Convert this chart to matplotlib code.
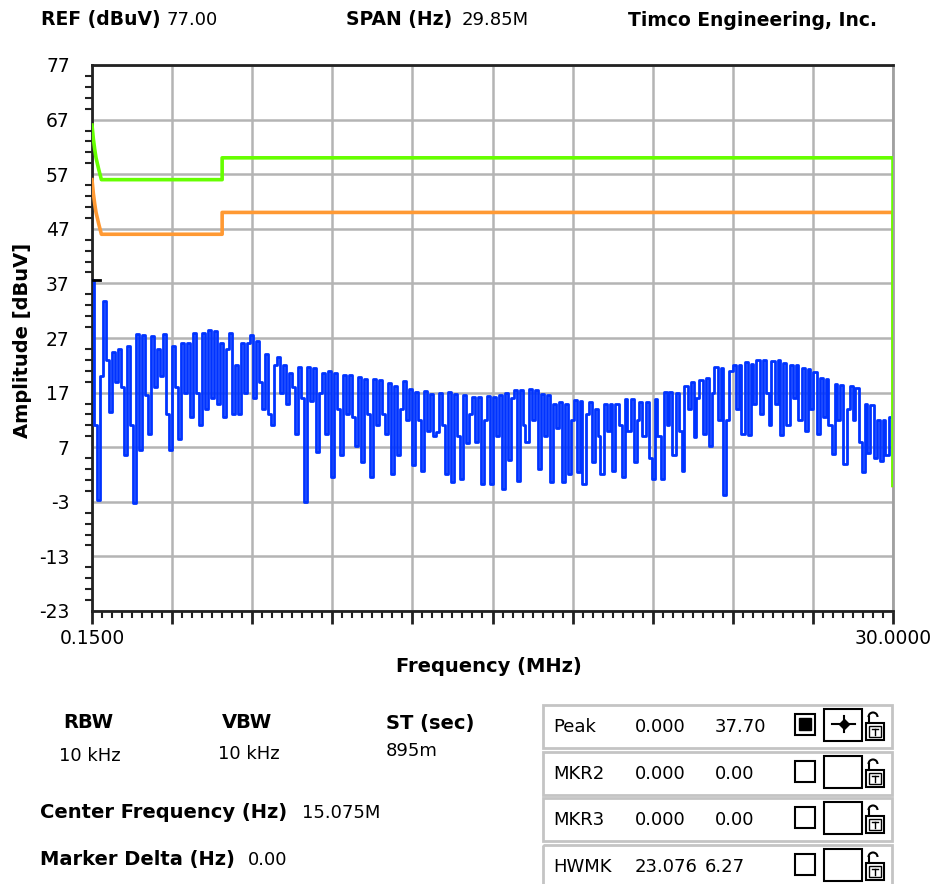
# conducted emissions sweep, spectrum analyzer screen
import numpy as np
import matplotlib.pyplot as plt
from matplotlib.ticker import FixedLocator
from matplotlib.patches import Rectangle, Arc

plt.rcParams['font.family'] = ['DejaVu Sans']

# sweep settings
f_start = 0.15   # MHz
f_stop = 30.0    # MHz
ref_level = 77   # dBuV
bottom_level = -23

trace = [
    37.7, 11, -2.7, 20, 33.8, 23, 13.5, 24.5, 19, 25,
    18, 5.5, 25.5, 11, -3.3, 27.8, 6.5, 27.5, 16.5, 9.5,
    27.3, 18, 25, 20, 27.8, 13, 6.5, 25.5, 18, 8.5,
    26, 17, 26, 12.5, 28, 17, 11, 28, 14, 28.4,
    16, 28.2, 15, 26, 12.5, 25, 28, 13, 22, 13,
    26, 17, 26, 27.6, 16, 26.5, 19, 14, 24, 13,
    11, 22, 23.5, 17, 22, 15, 20.5,
    18, 9.5, 21.7, 16, -3, 21.7, 15.5, 21.5, 6.1, 17,
    20.5, 9.5, 21, 1.5, 20.5, 14, 5.5, 20.3, 13, 20.2,
    12.5, 7.3, 19.9, 4.3, 19.5, 13, 1.5, 19.5, 11, 19.3,
    13, 9.5, 18.8, 2.1, 18.3, 5.5, 14, 19.2, 12, 17.7,
    3.7, 17.2, 12, 2.7, 17.3, 10, 16.8, 9, 9.8, 17,
    11, 2.1, 17.2, 0.6, 16.8, 9, 1.2, 16.6, 7.8, 13,
    16.2, 8, 16.2, 0.3, 12, 16.4, 0.2,
    16.2, 9, 16.5, -0.6, 17, 4.6, 16, 17.4, 0.9, 17.4,
    11, 8, 17.6, 12, 17.5, 3, 16.8, 9, 16.5, 0.6,
    15, 10.5, 15.3, 0.6, 15, 2, 12, 15.6, 2.5, 15.5,
    0.3, 13, 15.3, 4.2, 14, 9, 2, 15, 10, 15,
    2.7, 15, 11, 1.5, 15.9, 10, 15.8, 4.2, 12, 15.3,
    9, 15.2, 5, 1.2, 15.8, 9, 1.2, 17.1, 11, 17.2,
    5.5, 17, 10, 2.7, 18.3, 14, 19,
    8.9, 16, 19.3, 9.5, 19.6, 7.3, 17, 21.7, 12, 21.5,
    -1.8, 12, 21, 22, 14, 22, 9.5, 22.6, 9.2, 22.3,
    15, 22.9, 13, 22.9, 17, 11, 22.8, 15, 22.9, 9.2,
    22.5, 11, 22, 16, 22, 12, 21.5, 10, 21.4, 14,
    20.8, 9.5, 19.6, 12.5, 19.4, 11, 5.8, 18.6, 12, 18.4,
    4, 14, 18.3, 12, 17.8, 8, 2.4, 15, 6, 14.7,
    5, 12, 4.5, 12, 5.6, 12.5, 13.5,
]

# limit lines (MHz, dBuV)
qp_freq = [0.15, 0.2, 0.25, 0.3, 0.4, 0.5, 5.0, 5.0, 30.0, 30.0]
qp_level = [66, 63.5, 61.6, 60, 57.9, 56, 56, 60, 60, 0]
av_freq = [0.15, 0.2, 0.25, 0.3, 0.4, 0.5, 5.0, 5.0, 30.0, 30.0]
av_level = [56, 53.5, 51.6, 50, 47.9, 46, 46, 50, 50, 0]

# marker
peak_freq = 0.15
peak_level = 37.7

# screen texts
ref_text = "77.00"
span_text = "29.85M"
company = "Timco Engineering, Inc."
rbw = "10 kHz"
vbw = "10 kHz"
sweep_time = "895m"
center_freq = "15.075M"
marker_delta = "0.00"
mk_names = ["Peak", "MKR2", "MKR3", "HWMK"]
mk_freq = ["0.000", "0.000", "0.000", "23.076"]
mk_amp = ["37.70", "0.00", "0.00", "6.27"]

W, H = 935, 884
fig = plt.figure(figsize=(W / 100, H / 100), dpi=100)

# overlay in pixel coords for the screen texts
ov = fig.add_axes([0, 0, 1, 1])
ov.set_xlim(0, W)
ov.set_ylim(H, 0)
ov.axis('off')

# main plot area
x0, x1, y0, y1 = 92, 893, 65, 611
ax = fig.add_axes([x0 / W, 1 - y1 / H, (x1 - x0) / W, (y1 - y0) / H])

freq = np.linspace(f_start, f_stop, len(trace))
ax.plot(freq, trace, color='#0033ff', lw=2, drawstyle='steps-mid', zorder=3)
ax.plot(av_freq, av_level, color='#ff9933', lw=2.6, zorder=4)
ax.plot(qp_freq, qp_level, color='#66ff00', lw=2.6, zorder=5)
ax.plot([peak_freq, peak_freq + 0.3], [peak_level, peak_level], color='black', lw=2, zorder=6)

ax.set_xlim(f_start, f_stop)
ax.set_ylim(bottom_level, ref_level)

xmaj = np.linspace(f_start, f_stop, 11)
ax.xaxis.set_major_locator(FixedLocator(xmaj))
ax.set_xticklabels(['0.1500'] + [''] * 9 + ['30.0000'])
ax.xaxis.set_minor_locator(FixedLocator(np.linspace(f_start, f_stop, 81)))
ymaj = np.arange(bottom_level, ref_level + 1, 10)
ax.yaxis.set_major_locator(FixedLocator(ymaj))
ax.set_yticklabels([str(v) for v in ymaj])
ax.yaxis.set_minor_locator(FixedLocator(np.arange(bottom_level, ref_level + 1, 2)))

ax.tick_params(axis='x', which='major', length=9, width=2, pad=4, labelsize=13.5, color='#222222')
ax.tick_params(axis='x', which='minor', length=5, width=1.5, color='#222222')
ax.tick_params(axis='y', which='major', length=0, pad=16, labelsize=13.5)
ax.tick_params(axis='y', which='minor', length=5, width=1.5, color='#222222')

ax.grid(True, which='major', color='#b4b4b4', lw=1.8)
ax.set_axisbelow(True)
for side in ['left', 'bottom', 'top']:
    ax.spines[side].set_color('#222222')
    ax.spines[side].set_linewidth(2)
ax.spines['right'].set_color('#a0a0a0')
ax.spines['right'].set_linewidth(2)

# header
ov.text(41, 20, "REF (dBuV)", fontsize=13.5, fontweight='bold', va='center')
ov.text(166, 20, ref_text, fontsize=13, va='center')
ov.text(346, 20, "SPAN (Hz)", fontsize=13.5, fontweight='bold', va='center')
ov.text(462, 20, span_text, fontsize=13, va='center')
ov.text(628, 20, company, fontsize=13.5, fontweight='bold', va='center')

# axis titles
ov.text(489, 666, "Frequency (MHz)", fontsize=14, fontweight='bold', ha='center', va='center')
ov.text(23, 340, "Amplitude [dBuV]", fontsize=14, fontweight='bold', ha='center', va='center',
        rotation=90)

# settings block
ov.text(88, 723, "RBW", fontsize=14, fontweight='bold', ha='center', va='center')
ov.text(90, 756, rbw, fontsize=13, ha='center', va='center')
ov.text(247, 723, "VBW", fontsize=14, fontweight='bold', ha='center', va='center')
ov.text(249, 754, vbw, fontsize=13, ha='center', va='center')
ov.text(386, 723, "ST (sec)", fontsize=14, fontweight='bold', va='center')
ov.text(386, 751, sweep_time, fontsize=13, va='center')
ov.text(40, 813, "Center Frequency (Hz)", fontsize=14, fontweight='bold', va='center')
ov.text(302, 813, center_freq, fontsize=13, va='center')
ov.text(40, 860, "Marker Delta (Hz)", fontsize=14, fontweight='bold', va='center')
ov.text(248, 860, marker_delta, fontsize=13, va='center')

# marker table
row_tops = [705, 752, 798, 845]
for i, top in enumerate(row_tops):
    ov.add_patch(Rectangle((543, top), 349, 43, fill=False, ec='#c4c4c4', lw=2))
    cy = top + 22
    ov.text(553, cy, mk_names[i], fontsize=13, va='center')
    ov.text(635, cy, mk_freq[i], fontsize=13, va='center')
    ov.text(715 if i < 3 else 705, cy, mk_amp[i], fontsize=13, va='center')
    # display checkbox
    ov.add_patch(Rectangle((795, top + 9), 20, 21, fill=False, ec='black', lw=1.5))
    if i == 0:
        ov.add_patch(Rectangle((799, top + 13), 12, 12, color='black'))
    # marker style box
    ov.add_patch(Rectangle((824, top + 4), 38, 32, fill=False, ec='black', lw=1.5))
    if i == 0:
        ov.plot([832, 855], [top + 19, top + 19], color='black', lw=1.5)
        ov.plot([843.5, 843.5], [top + 11, top + 27], color='black', lw=1.5)
        ov.plot(843.5, top + 19, marker='D', ms=5, color='black')
    # lock icon
    ov.add_patch(Rectangle((866, top + 18), 18, 17, fill=False, ec='black', lw=1.5))
    ov.add_patch(Rectangle((869, top + 21), 12, 11, fill=False, ec='black', lw=1))
    ov.plot([872, 878], [top + 24, top + 24], color='black', lw=1)
    ov.plot([875, 875], [top + 24, top + 30], color='black', lw=1)
    ov.add_patch(Arc((873, top + 12), 9, 9, theta1=180, theta2=360, color='black', lw=1.5))
    ov.plot([868.5, 868.5], [top + 12, top + 18], color='black', lw=1.5)

fig.savefig('out.png', dpi=100)
